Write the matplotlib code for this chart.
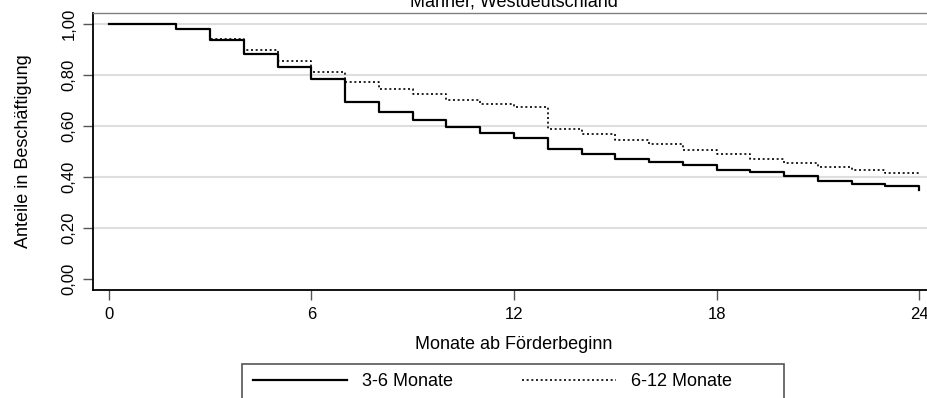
import matplotlib
matplotlib.use("Agg")
from matplotlib import pyplot as plt
from matplotlib.patches import Rectangle

plt.rcParams["font.family"] = ["Liberation Sans", "DejaVu Sans"]

# Kaplan-Meier style step curves, one value per month
months = list(range(25))
dauer_3_6 = [1.000, 1.000, 0.980, 0.936, 0.881, 0.833, 0.783, 0.693, 0.656,
             0.624, 0.595, 0.574, 0.552, 0.509, 0.491, 0.469, 0.459, 0.447,
             0.429, 0.418, 0.404, 0.384, 0.374, 0.363, 0.349]
dauer_6_12 = [1.000, 1.000, 0.982, 0.941, 0.899, 0.856, 0.813, 0.774, 0.745,
              0.724, 0.702, 0.687, 0.673, 0.589, 0.569, 0.545, 0.529, 0.506,
              0.489, 0.471, 0.454, 0.439, 0.427, 0.417, 0.417]
series_labels = ["3-6 Monate", "6-12 Monate"]

x_ticks = [0, 6, 12, 18, 24]
y_ticks = [0.0, 0.2, 0.4, 0.6, 0.8, 1.0]

W, H = 928, 398
fig = plt.figure(figsize=(W / 100, H / 100), dpi=100)
ax = fig.add_axes([93 / W, 1 - 290 / H, (935 - 93) / W, (290 - 13) / H])

for v in y_ticks[1:]:
    ax.axhline(v, color="#dedede", lw=1.5, zorder=0)

l1, = ax.step(months, dauer_3_6, where="post", color="black", lw=1.6,
              label=series_labels[0])
l2, = ax.step(months, dauer_6_12, where="post", color="black", lw=1.2,
              linestyle=(0, (1.2, 1.6)), label=series_labels[1])

ax.set_xlim(-0.47, 24.47)
ax.set_ylim(-0.043, 1.043)
ax.set_xticks(x_ticks)
ax.set_xticklabels([str(t) for t in x_ticks])
ax.set_yticks(y_ticks)
ax.set_yticklabels([f"{v:.2f}".replace(".", ",") for v in y_ticks],
                   rotation=90, va="center")
ax.tick_params(axis="both", labelsize=12, length=7, width=1, color="#555555")
ax.tick_params(axis="x", pad=5)
ax.tick_params(axis="y", pad=5)

for side in ("left", "bottom"):
    ax.spines[side].set_color("black")
    ax.spines[side].set_linewidth(1.3)
ax.spines["top"].set_color("#808080")
ax.spines["top"].set_linewidth(1.0)
ax.spines["right"].set_visible(False)

ax.set_title("Männer, Westdeutschland", fontsize=13, pad=5)
ax.set_xlabel("Monate ab Förderbeginn", fontsize=13, labelpad=10)
ax.set_ylabel("Anteile in Beschäftigung", fontsize=13, labelpad=21)

# legend box below the axis
fig.patches.append(Rectangle((242 / W, 1 - 402 / H), (784 - 242) / W, 38 / H,
                             transform=fig.transFigure, fill=False,
                             edgecolor="#555555", lw=1.2))
fig.legend(handles=[l1, l2], loc="center left", ncol=2, frameon=False,
           bbox_to_anchor=(253 / W, 1 - 382 / H), borderaxespad=0,
           borderpad=0, fontsize=13, handlelength=5.2, handletextpad=0.85,
           columnspacing=3.8)

fig.savefig("out.png", dpi=100)
